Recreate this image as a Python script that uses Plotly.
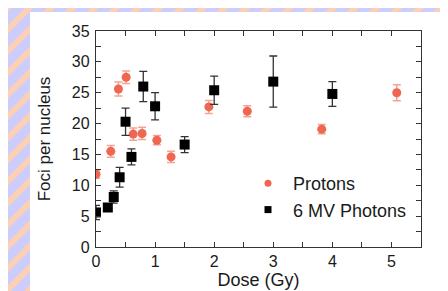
import plotly.graph_objects as go

# Protons
p_dose = [0.0, 0.25, 0.38, 0.51, 0.63, 0.78, 1.03, 1.27, 1.91, 2.56, 3.82, 5.09]
p_foci = [11.8, 15.5, 25.6, 27.5, 18.3, 18.4, 17.3, 14.6, 22.7, 22.0, 19.1, 25.0]
p_err = [0.65, 0.95, 1.15, 1.0, 1.0, 1.0, 0.75, 0.9, 1.05, 0.9, 0.75, 1.3]

# 6 MV Photons
g_dose = [0.0, 0.2, 0.3, 0.4, 0.5, 0.6, 0.8, 1.0, 1.5, 2.0, 3.0, 4.0]
g_foci = [5.6, 6.4, 8.1, 11.3, 20.3, 14.6, 26.0, 22.8, 16.6, 25.4, 26.8, 24.8]
g_err = [1.15, 0.6, 1.0, 1.6, 2.2, 1.3, 2.45, 2.2, 1.3, 2.3, 4.15, 2.0]

W, H = 448, 291
L, R, T, B = 88, 35, 23, 52
PW, PH = W - L - R, H - T - B

def px2paper(px, py):
    return (px - L) / PW, (H - B - py) / PH

shapes = []
# diagonal peach stripes on lavender
period = 21.7
k = 108 - period * 20
while k < W + H + 40:
    x0, y0 = px2paper(k + 10, -10)
    x1, y1 = px2paper(k - 310, 310)
    shapes.append(dict(type="line", xref="paper", yref="paper", x0=x0, y0=y0, x1=x1, y1=y1,
                       line=dict(color="#fcd0b4", width=6), layer="below"))
    k += period
# white panel
x0, y0 = px2paper(22, 4)
x1, y1 = px2paper(446, 300)
shapes.append(dict(type="rect", xref="paper", yref="paper", x0=x0, y0=y0, x1=x1, y1=y1,
                   fillcolor="white", line=dict(width=0), layer="below"))

RED = "#ef6651"
FONT = "Liberation Sans, Arial"

fig = go.Figure()
fig.add_trace(go.Scatter(
    x=p_dose, y=p_foci, mode="markers", name="Protons", showlegend=False,
    marker=dict(symbol="circle", size=9, color=RED),
    error_y=dict(type="data", array=p_err, color="#f4a292", thickness=1.5, width=4),
))
fig.add_trace(go.Scatter(
    x=g_dose, y=g_foci, mode="markers", name="6 MV Photons", showlegend=False,
    marker=dict(symbol="square", size=10, color="black"),
    error_y=dict(type="data", array=g_err, color="#333333", thickness=1.3, width=4),
))
# legend entries with smaller symbols
fig.add_trace(go.Scatter(x=[None], y=[None], mode="markers", name="Protons",
                         marker=dict(symbol="circle", size=7, color=RED)))
fig.add_trace(go.Scatter(x=[None], y=[None], mode="markers", name="6 MV Photons",
                         marker=dict(symbol="square", size=7, color="black")))

axis_common = dict(
    showline=True, linecolor="#333333", linewidth=1.3, mirror="ticks",
    ticks="inside", ticklen=5, tickwidth=1, tickcolor="#333333",
    showgrid=False, zeroline=False,
    tickfont=dict(family=FONT, size=16, color="#1a1a1a"),
)
fig.update_xaxes(range=[0, 5.5], dtick=1, tick0=0,
                 minor=dict(dtick=0.5, ticks="inside", ticklen=5, tickcolor="#333333"),
                 title=dict(text="Dose (Gy)", font=dict(family=FONT, size=18, color="#1a1a1a"), standoff=4),
                 **axis_common)
fig.update_yaxes(range=[0, 35], dtick=5, tick0=0,
                 minor=dict(dtick=2.5, ticks="inside", ticklen=5, tickcolor="#333333"),
                 ticklabelstandoff=2,
                 title=dict(text="Foci per nucleus", font=dict(family=FONT, size=17, color="#1a1a1a"), standoff=16),
                 **axis_common)

lx, ly = px2paper(235, 157)
fig.update_layout(
    width=W, height=H, margin=dict(l=L, r=R, t=T, b=B),
    paper_bgcolor="#ccccfd", plot_bgcolor="rgba(0,0,0,0)",
    shapes=shapes, showlegend=True,
    legend=dict(x=lx, y=ly, xanchor="left", yanchor="top", bgcolor="rgba(0,0,0,0)",
                font=dict(family=FONT, size=18, color="#1a1a1a"),
                itemsizing="trace", itemwidth=40, tracegroupgap=0),
)
fig.write_html("out.html")
